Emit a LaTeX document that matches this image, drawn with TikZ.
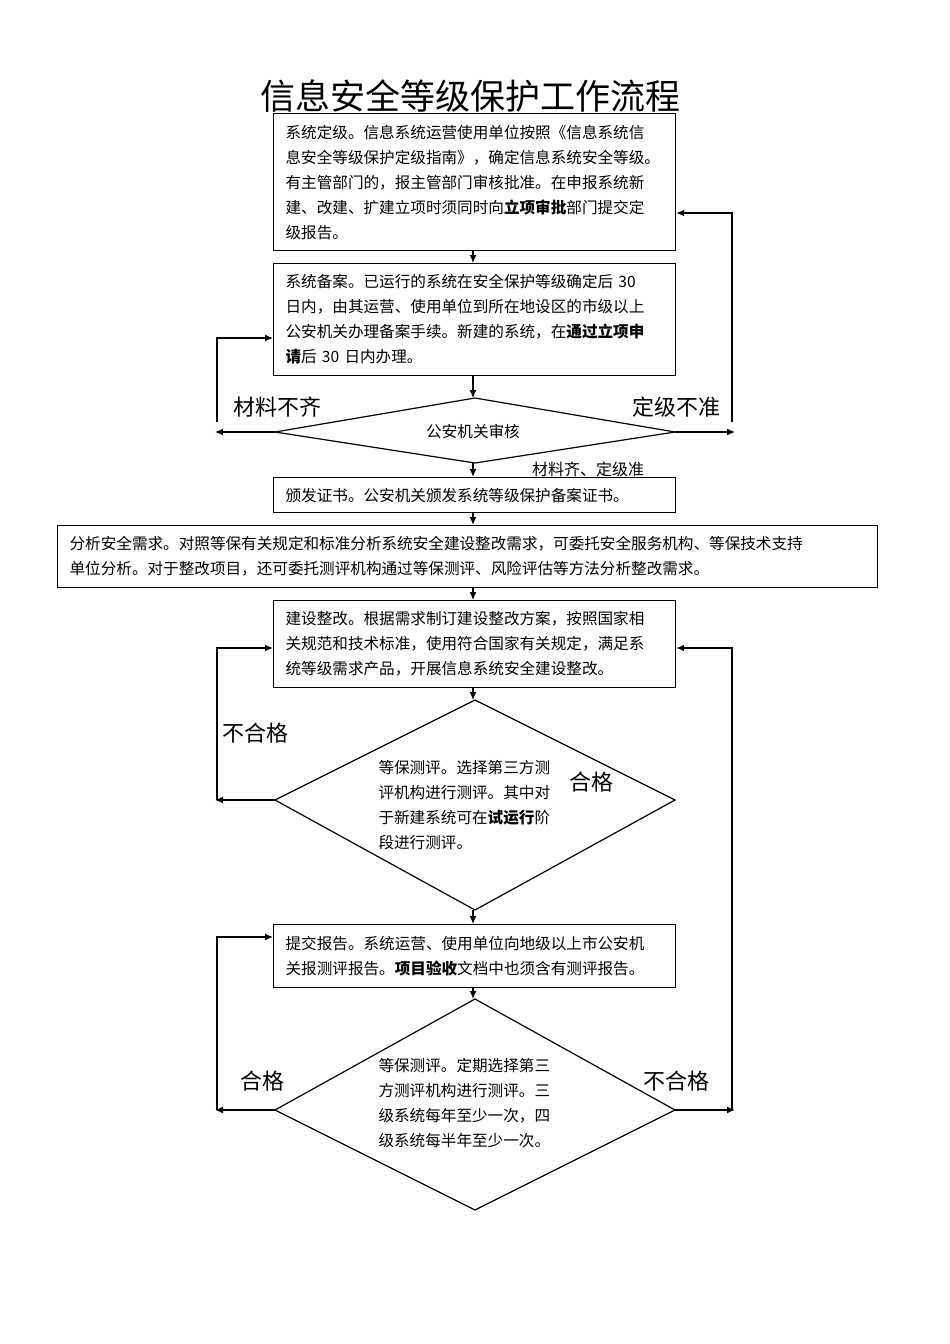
\documentclass[tikz,border=0pt]{standalone}
\usepackage{fontspec}
\setmainfont{Noto Sans CJK SC}
\usetikzlibrary{arrows.meta}
\begin{document}
\begin{tikzpicture}[x=1pt,y=-1pt,
  box/.style={draw,line width=1.2pt,anchor=north west,align=left,inner xsep=12pt,inner ysep=0pt,font=\fontsize{15.6}{25}\selectfont},
  arr/.style={-{Latex[length=8pt,width=7pt]},line width=1.3pt},
  dia/.style={line width=1.2pt},
  lab/.style={font=\fontsize{22}{24}\selectfont},
  dtxt/.style={align=left,font=\fontsize{15.6}{25}\selectfont}]
\useasboundingbox (0,0) rectangle (950,1344);
\node[font=\fontsize{35}{37}\selectfont] (title) at (470,96) {信息安全等级保护工作流程};

\node[box,minimum width=402pt,minimum height=137pt,text width=378pt] (b1) at (273,113)
 {系统定级。信息系统运营使用单位按照《信息系统信\\息安全等级保护定级指南》，确定信息系统安全等级。\\有主管部门的，报主管部门审核批准。在申报系统新\\建、改建、扩建立项时须同时向\textbf{立项审批}部门提交定\\级报告。};
\node[box,minimum width=402pt,minimum height=112pt,text width=378pt] (b2) at (273,263)
 {系统备案。已运行的系统在安全保护等级确定后 30\\日内，由其运营、使用单位到所在地设区的市级以上\\公安机关办理备案手续。新建的系统，在\textbf{通过立项申}\\\textbf{请}后 30 日内办理。};

% diamond 1
\coordinate (d1t) at (475,398); \coordinate (d1b) at (475,463);
\coordinate (d1l) at (275,432); \coordinate (d1r) at (675,432);
\draw[dia] (d1t)--(d1r)--(d1b)--(d1l)--cycle;
\node[font=\fontsize{15.6}{17}\selectfont] (d1) at (473,432) {公安机关审核};
\node[lab,anchor=south west] (l1) at (230,421) {材料不齐};
\node[lab,anchor=south east] (l2) at (724,421) {定级不准};
\node[font=\fontsize{16}{17}\selectfont] (l3) at (588,469) {材料齐、定级准};

\node[box,fill=white,minimum width=402pt,minimum height=35pt,text width=378pt] (b3) at (273,477)
 {颁发证书。公安机关颁发系统等级保护备案证书。};
\node[box,minimum width=820pt,minimum height=62pt,text width=796pt] (b4) at (57,525)
 {分析安全需求。对照等保有关规定和标准分析系统安全建设整改需求，可委托安全服务机构、等保技术支持\\单位分析。对于整改项目，还可委托测评机构通过等保测评、风险评估等方法分析整改需求。};
\node[box,minimum width=402pt,minimum height=87pt,text width=378pt] (b5) at (273,600)
 {建设整改。根据需求制订建设整改方案，按照国家相\\关规范和技术标准，使用符合国家有关规定，满足系\\统等级需求产品，开展信息系统安全建设整改。};

% diamond 2
\coordinate (d2t) at (475,700); \coordinate (d2b) at (475,910);
\coordinate (d2l) at (275,800); \coordinate (d2r) at (675,800);
\draw[dia] (d2t)--(d2r)--(d2b)--(d2l)--cycle;
\node[dtxt,anchor=north west] (d2) at (375,757) {等保测评。选择第三方测\\评机构进行测评。其中对\\于新建系统可在\textbf{试运行}阶\\段进行测评。};
\node[lab] (l4) at (255,733) {不合格};
\node[lab] (l5) at (591,782) {合格};

\node[box,minimum width=402pt,minimum height=63pt,text width=378pt] (b6) at (273,924)
 {提交报告。系统运营、使用单位向地级以上市公安机\\关报测评报告。\textbf{项目验收}文档中也须含有测评报告。};

% diamond 3
\coordinate (d3t) at (475,999); \coordinate (d3b) at (475,1210);
\coordinate (d3l) at (275,1110); \coordinate (d3r) at (675,1110);
\draw[dia] (d3t)--(d3r)--(d3b)--(d3l)--cycle;
\node[dtxt,anchor=north west] (d3) at (375,1055) {等保测评。定期选择第三\\方测评机构进行测评。三\\级系统每年至少一次，四\\级系统每半年至少一次。};
\node[lab] (l6) at (262,1081) {合格};
\node[lab] (l7) at (676,1081) {不合格};

% main vertical arrows
\draw[arr] (b1.south -| 473,0) -- (b2.north -| 473,0);
\draw[arr] (b2.south -| 473,0) -- (d1t -| 473,0);
\draw[arr] (d1b -| 473,0) -- (b3.north -| 473,0);
\draw[arr] (b3.south -| 473,0) -- (b4.north -| 473,0);
\draw[arr] (b4.south -| 473,0) -- (b5.north -| 473,0);
\draw[arr] (b5.south -| 473,0) -- (d2t -| 473,0);
\draw[arr] (d2b -| 473,0) -- (b6.north -| 473,0);
\draw[arr] (b6.south -| 473,0) -- (d3t -| 473,0);

% feedback loops
\coordinate (c1) at (215,432); \coordinate (c2) at (735,432);
\draw[arr] (d1l) -- (c1);
\draw[arr] (d1r) -- (c2);
\draw[arr] (217,422) -- (217,338) -- (b2.west |- 0,338);
\draw[arr] (732,422) -- (732,213) -- (b1.east |- 0,213);

\coordinate (c3) at (215,800);
\draw[arr] (d2l) -- (c3);
\draw[arr] (217,800) -- (217,648) -- (b5.west |- 0,648);

\coordinate (c4) at (215,1110); \coordinate (c5) at (735,1110);
\draw[arr] (d3l) -- (c4);
\draw[arr] (d3r) -- (c5);
\draw[arr] (217,1110) -- (217,937) -- (b6.west |- 0,937);
\draw[arr] (732,1110) -- (732,648) -- (b5.east |- 0,648);
\end{tikzpicture}
\end{document}
